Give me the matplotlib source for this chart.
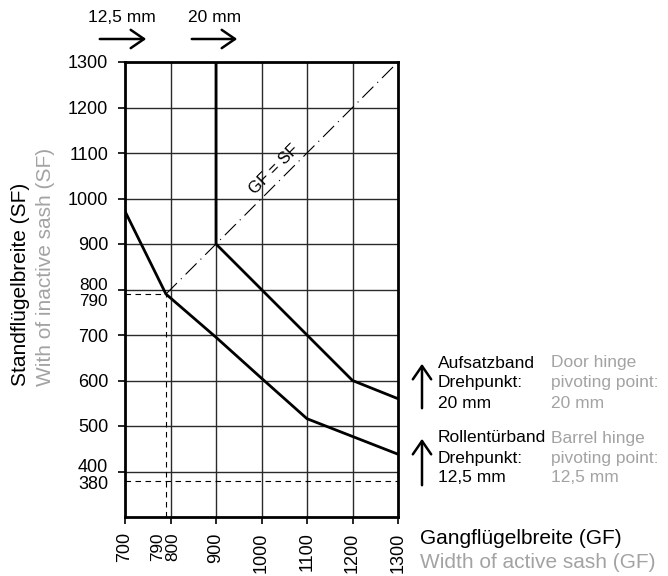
import matplotlib
matplotlib.use("Agg")
import matplotlib.pyplot as plt
from matplotlib.patches import FancyArrowPatch
from matplotlib.transforms import blended_transform_factory, ScaledTranslation

plt.rcParams['font.family'] = ['Liberation Sans', 'DejaVu Sans']

# Data
gf_125 = [700, 790, 900, 1000, 1100, 1300]
sf_125 = [972, 790, 695, 605, 516, 438]

gf_20 = [900, 900, 1000, 1100, 1200, 1300]
sf_20 = [1300, 900, 800, 700, 600, 560]

diag = [790, 1300]
x_ticks = [700, 800, 900, 1000, 1100, 1200, 1300]
y_ticks = [500, 600, 700, 900, 1000, 1100, 1200, 1300]
ref_gf = 790
ref_sf = 790
min_sf = 380

W, H = 668, 576
fig = plt.figure(figsize=(W / 100, H / 100), dpi=100)
ax = fig.add_axes([125 / W, 1 - 517 / H, 273 / W, 455 / H])
ax.set_xlim(700, 1300)
ax.set_ylim(300, 1300)

TICK_FS = 13

# grid
for x in x_ticks[1:-1]:
    ax.axvline(x, color='#2a2a2a', lw=1.0, zorder=1)
for y in [400, 500, 600, 700, 800, 900, 1000, 1100, 1200]:
    ax.axhline(y, color='#2a2a2a', lw=1.0, zorder=1)

# dashed reference lines
ax.plot([700, ref_gf], [ref_sf, ref_sf], color='black', lw=0.8, ls=(0, (5, 4)), zorder=2)
ax.plot([ref_gf, ref_gf], [300, ref_sf], color='black', lw=0.8, ls=(0, (5, 4)), zorder=2)
ax.plot([700, 1300], [min_sf, min_sf], color='black', lw=0.8, ls=(0, (5, 4)), zorder=2)

# diagonal GF = SF
ax.plot(diag, diag, color='black', lw=0.8, ls=(0, (14, 5, 1, 5)), zorder=2)
ax.text(1028, 1064, 'GF = SF', rotation=45, ha='center', va='center',
        fontsize=12, rotation_mode='anchor', zorder=4)

# curves
ax.plot(gf_125, sf_125, color='black', lw=2.0, zorder=3, solid_joinstyle='miter')
ax.plot(gf_20, sf_20, color='black', lw=2.0, zorder=3, solid_joinstyle='miter')

for s in ax.spines.values():
    s.set_linewidth(2.0)

ax.set_xticks(x_ticks)
ax.set_xticklabels(['700', '', '900', '1000', '1100', '1200', '1300'], rotation=90)
ax.set_yticks(y_ticks + [400, 800])
ax.set_yticklabels([str(v) for v in y_ticks] + ['', ''])
ax.tick_params(axis='both', direction='out', length=5, width=1.2, labelsize=TICK_FS)
ax.tick_params(axis='y', pad=7)
ax.tick_params(axis='x', pad=6)

# manually placed crowded tick labels
SMALL_FS = 12.3
ty = blended_transform_factory(ax.transAxes, ax.transData)
for val, dy in [(800, 4.5), (790, -7.5), (400, 3.5), (380, -3.5)]:
    ax.text(-0.062, val, str(val), transform=ty + ScaledTranslation(0, dy / 100, fig.dpi_scale_trans),
            ha='right', va='center', fontsize=SMALL_FS if val in (800, 790) else TICK_FS)
tx = blended_transform_factory(ax.transData, ax.transAxes)
for val, dx in [(790, -8.5), (800, 2.5)]:
    ax.text(val, -0.033, str(val), transform=tx + ScaledTranslation(dx / 100, 0, fig.dpi_scale_trans),
            ha='center', va='top', rotation=90, fontsize=SMALL_FS)

def fx(px):
    return px / W

def fy(py):
    return 1 - py / H

LAB_FS = 15
GRAY = '#a3a3a3'
# axis titles
fig.text(fx(21), fy(386), 'Standflügelbreite (SF)', rotation=90, ha='center', va='bottom', fontsize=LAB_FS)
fig.text(fx(46), fy(386), 'With of inactive sash (SF)', rotation=90, ha='center', va='bottom', fontsize=LAB_FS, color=GRAY)
fig.text(fx(420), fy(538), 'Gangflügelbreite (GF)', ha='left', va='center', fontsize=LAB_FS)
fig.text(fx(420), fy(563), 'Width of active sash (GF)', ha='left', va='center', fontsize=LAB_FS, color=GRAY)

# top arrows
arrow_kw = dict(arrowstyle='->,head_length=0.8,head_width=0.55', lw=1.8, color='black')
fig.text(fx(122), fy(18), '12,5 mm', ha='center', va='center', fontsize=12.5)
fig.text(fx(215), fy(18), '20 mm', ha='center', va='center', fontsize=12.5)
fig.add_artist(FancyArrowPatch((fx(97), fy(39)), (fx(149), fy(39)),
               transform=fig.transFigure, mutation_scale=12, **arrow_kw))
fig.add_artist(FancyArrowPatch((fx(189), fy(39)), (fx(240), fy(39)),
               transform=fig.transFigure, mutation_scale=12, **arrow_kw))

# right side notes
NOTE_FS = 12.5
blocks = [
    (363, ['Aufsatzband', 'Drehpunkt:', '20 mm'], ['Door hinge', 'pivoting point:', '20 mm'], (411, 361)),
    (438, ['Rollentürband', 'Drehpunkt:', '12,5 mm'], ['Barrel hinge', 'pivoting point:', '12,5 mm'], (488, 436)),
]
for y0, de, en, (ab, at) in blocks:
    for i, (d, e) in enumerate(zip(de, en)):
        fig.text(fx(438), fy(y0 + 20 * i), d, ha='left', va='center', fontsize=NOTE_FS)
        fig.text(fx(551), fy(y0 + 20 * i), e, ha='left', va='center', fontsize=NOTE_FS, color=GRAY)
    fig.add_artist(FancyArrowPatch((fx(422), fy(ab)), (fx(422), fy(at)),
                   transform=fig.transFigure, mutation_scale=12, **arrow_kw))

fig.savefig('out.png', dpi=100)
